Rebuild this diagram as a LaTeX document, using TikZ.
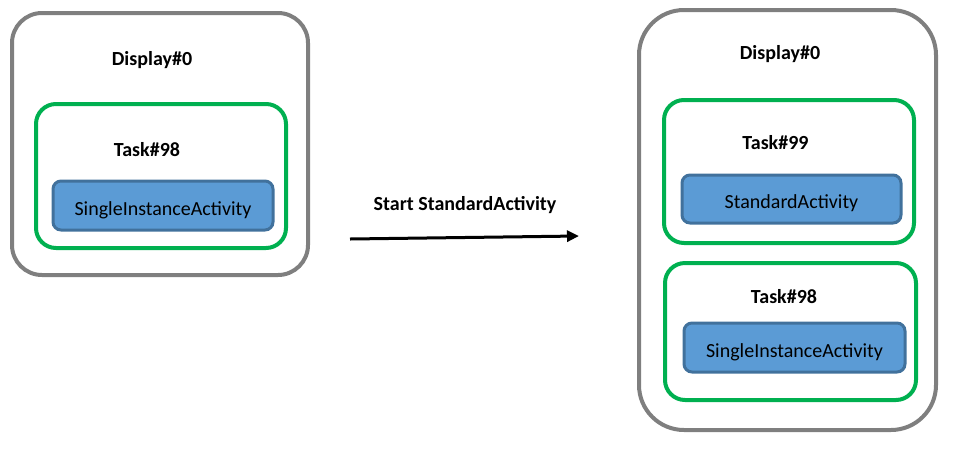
\documentclass[tikz,border=0pt]{standalone}
\usepackage{fontspec}
\setmainfont{Carlito}
\usetikzlibrary{arrows.meta}
\definecolor{dispgray}{HTML}{7F7F7F}
\definecolor{taskgreen}{HTML}{00B050}
\definecolor{actfill}{HTML}{5B9BD5}
\definecolor{actborder}{HTML}{41719C}
\tikzset{
  dispbox/.style={draw=dispgray, line width=4pt, rounded corners=30pt, inner sep=0pt},
  taskbox/.style={draw=taskgreen, line width=4pt, rounded corners=20pt, inner sep=0pt},
  actbox/.style={draw=actborder, fill=actfill, line width=3pt, rounded corners=8pt, inner sep=0pt, text height=19pt, text depth=0pt, font=\fontsize{20}{24}\selectfont},
  title/.style={font=\fontsize{20}{24}\selectfont\bfseries, inner sep=0pt},
}
\begin{document}
\begin{tikzpicture}[x=1pt,y=-1pt]
\useasboundingbox (0,0) rectangle (953,456);
% left display
\node[dispbox, minimum width=296pt, minimum height=262pt] (d1) at (160,144) {};
\node[title] (d1t) at (152,60) {Display\#0};
\node[taskbox, minimum width=250pt, minimum height=144pt] (t1) at (161,176) {};
\node[title] (t1t) at (147,150) {Task\#98};
\node[actbox, minimum width=220pt, minimum height=49pt] (a1) at (163,205.5) {SingleInstanceActivity};
% arrow
\coordinate (as) at (350,239);
\coordinate (ae) at (579,236);
\draw[line width=3pt, -{Triangle[length=12pt,width=11pt]}] (as) -- (ae);
\node[title] (lbl) at (465,205) {Start StandardActivity};
% right display
\node[dispbox, rounded corners=45pt, minimum width=297pt, minimum height=420pt] (d2) at (787.5,220) {};
\node[title] (d2t) at (780,54) {Display\#0};
\node[taskbox, minimum width=250pt, minimum height=143pt] (t2) at (789,171.5) {};
\node[title] (t2t) at (775.5,143) {Task\#99};
\node[actbox, minimum width=219pt, minimum height=48pt] (a2) at (791.5,199) {StandardActivity};
\node[taskbox, minimum width=251pt, minimum height=137pt] (t3) at (790.5,331.5) {};
\node[title] (t3t) at (784,297) {Task\#98};
\node[actbox, minimum width=221pt, minimum height=49pt] (a3) at (794.5,347.5) {SingleInstanceActivity};
\end{tikzpicture}
\end{document}
